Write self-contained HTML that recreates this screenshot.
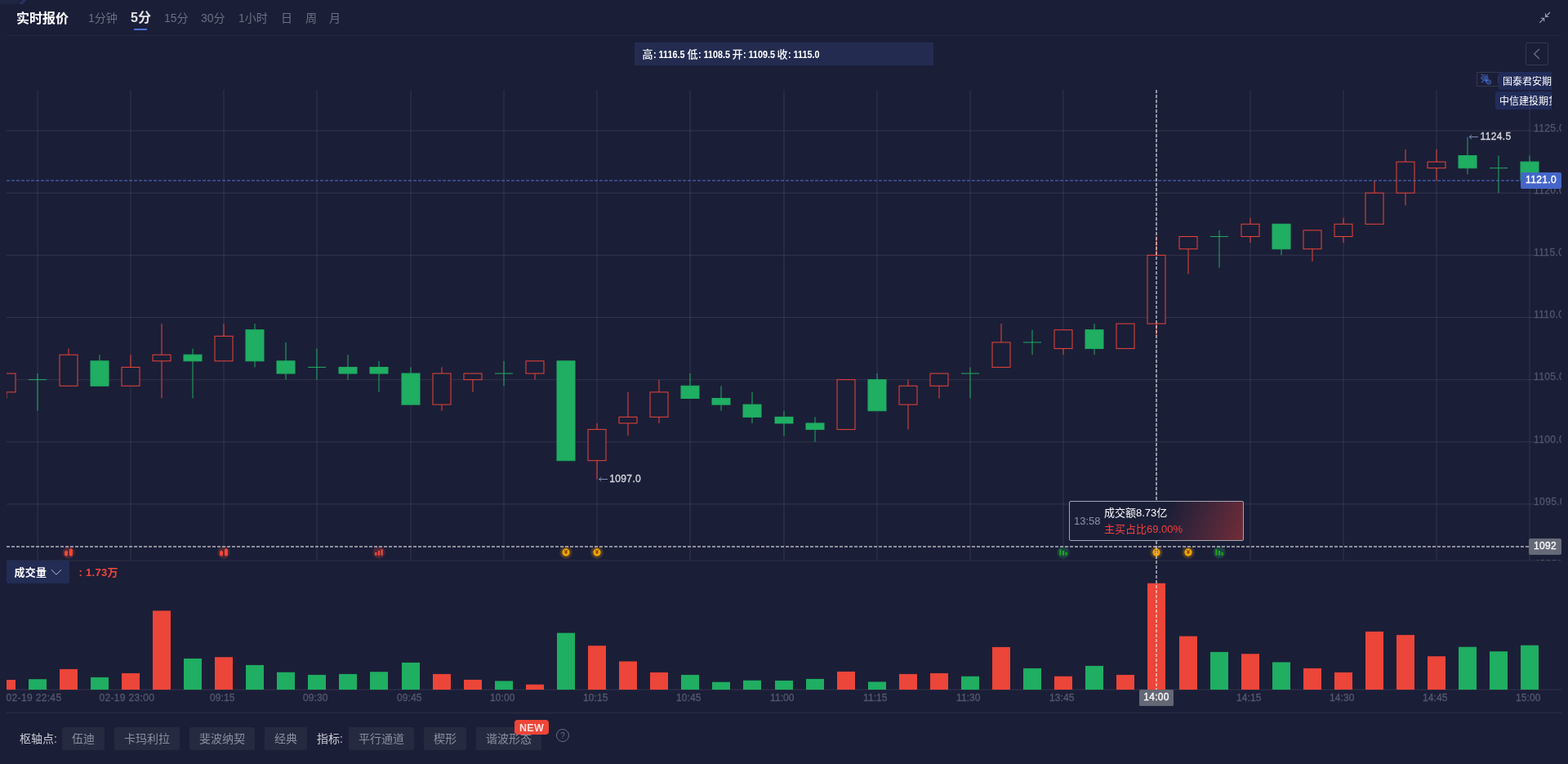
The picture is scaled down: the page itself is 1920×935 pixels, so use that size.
<!DOCTYPE html>
<html lang="zh-CN"><head><meta charset="utf-8"><title>实时报价</title>
<style>
html,body{margin:0;padding:0;}
body{width:1920px;height:935px;overflow:hidden;background:#1b1e37;font-family:"Liberation Sans","Noto Sans CJK SC",sans-serif;color:#fff;position:relative;}
.abs{position:absolute;white-space:nowrap;}
.chart{position:absolute;left:0;top:0;}
.title{left:20px;top:11px;height:24px;line-height:24px;font-size:16px;font-weight:bold;color:#fff;}
.tab{top:10px;height:24px;line-height:24px;font-size:14px;color:#6c7082;}
.tab.on{font-size:16px;font-weight:bold;color:#e4e4e8;}
.hline{left:8px;width:1904px;height:1px;background:#25293d;}
.ohlc{left:777px;top:52px;width:366px;height:28px;background:#232c50;}
.ohlc span{position:absolute;top:1px;line-height:28px;font-size:12px;color:#fff;white-space:nowrap;}
.ohlc .n{font-weight:bold;transform-origin:0 50%;transform:scaleX(0.9);}
.btnbox{left:1868px;top:52px;width:26px;height:26px;border:1px solid #35394d;border-radius:2px;}
.dm{left:1808px;top:88px;width:27px;height:16px;border:1px solid #35394d;border-right:none;overflow:hidden;}
.dmi{left:1813px;top:90px;font-size:10px;line-height:14px;color:#4a72d8;}
.dml{overflow:hidden;background:rgba(43,62,130,0.46);border-radius:2px 0 0 2px;height:22px;line-height:24px;font-size:12px;color:#fff;}
.ax{left:1878px;width:34px;overflow:hidden;height:14px;line-height:14px;font-size:12px;color:#53576d;-webkit-text-stroke:0.3px;letter-spacing:0.39px;}
.tl{height:14px;line-height:14px;font-size:12px;color:#53576d;top:847px;-webkit-text-stroke:0.35px;letter-spacing:0.05px;}
.ext{font-size:12px;line-height:14px;height:14px;color:#d6d7de;-webkit-text-stroke:0.35px;letter-spacing:0.35px;}
.plabel{left:1862px;top:211px;width:50px;height:20px;line-height:19px;-webkit-text-stroke:0.35px;letter-spacing:0.35px;background:#4466c9;border-radius:2px;font-size:12px;text-align:center;color:#fff;}
.clabel{left:1872px;top:659px;width:40px;height:20px;line-height:18px;-webkit-text-stroke:0.3px;letter-spacing:0.3px;background:#666a78;border-radius:2px;font-size:12px;text-align:center;color:#fff;}
.tlabel{left:1395px;top:844px;width:42px;height:20px;line-height:19px;-webkit-text-stroke:0.3px;letter-spacing:0.3px;background:#646875;border-radius:1.5px;font-size:12px;text-align:center;color:#fff;}
.tip{left:1309px;top:613px;width:212px;height:47px;border:1px solid #a3a6b4;border-radius:2px;background:linear-gradient(112deg,#1b1e37 0%,#1b1e37 53%,#46263a 77%,#722c38 100%);}
.tip .t{position:absolute;left:5px;top:14px;line-height:20px;font-size:13px;color:#8b93a8;}
.tip .l1{position:absolute;left:42px;top:4px;line-height:20px;font-size:13px;color:#fff;}
.tip .l2{position:absolute;left:42px;top:24px;line-height:20px;font-size:13px;color:#f2403c;}
.vol{left:8px;top:686px;width:77px;height:28px;background:#232c54;border-radius:2px;}
.vol span{position:absolute;left:9.5px;top:1px;letter-spacing:0.3px;line-height:28px;font-size:13px;font-weight:bold;color:#fff;}
.volv{left:96.5px;top:687px;letter-spacing:0.3px;line-height:28px;font-size:13px;font-weight:bold;color:#f0483a;}
.bl{top:890px;height:28px;line-height:28px;font-size:14px;color:#c9cad3;}
.bb{top:890px;height:28px;line-height:28px;font-size:14px;color:#8a8e9e;background:#262a40;border-radius:2px;text-align:center;}
.new{left:630px;top:881px;width:42px;height:18px;line-height:20px;border-radius:4px;background:#ee4538;color:#ffe1de;font-size:12.5px;font-weight:bold;text-align:center;letter-spacing:0.3px;}
.q{left:681px;top:892px;width:16px;height:16px;line-height:17px;text-align:center;font-size:10px;color:#6b6f82;}

</style></head><body>
<svg class="chart" width="1920" height="935" viewBox="0 0 1920 935">
<defs><clipPath id="cp"><rect x="8" y="100" width="1904" height="586"/></clipPath><clipPath id="cv"><rect x="8" y="686" width="1904" height="160"/></clipPath><radialGradient id="hr"><stop offset="0" stop-color="#e8453c" stop-opacity="0.3"/><stop offset="0.75" stop-color="#e8453c" stop-opacity="0.24"/><stop offset="1" stop-color="#e8453c" stop-opacity="0.1"/></radialGradient><radialGradient id="hg"><stop offset="0" stop-color="#1fae62" stop-opacity="0.3"/><stop offset="0.75" stop-color="#1fae62" stop-opacity="0.24"/><stop offset="1" stop-color="#1fae62" stop-opacity="0.1"/></radialGradient><radialGradient id="hy"><stop offset="0" stop-color="#f0a000" stop-opacity="0.3"/><stop offset="0.75" stop-color="#f0a000" stop-opacity="0.22"/><stop offset="1" stop-color="#f0a000" stop-opacity="0.1"/></radialGradient></defs>
<g stroke="#ffffff" stroke-opacity="0.1" stroke-width="1" fill="none">
<line x1="8" y1="617" x2="1880" y2="617"/>
<line x1="8" y1="540.83" x2="1880" y2="540.83"/>
<line x1="8" y1="464.67" x2="1880" y2="464.67"/>
<line x1="8" y1="388.5" x2="1880" y2="388.5"/>
<line x1="8" y1="312.33" x2="1880" y2="312.33"/>
<line x1="8" y1="236.17" x2="1880" y2="236.17"/>
<line x1="8" y1="160" x2="1880" y2="160"/>
<line x1="46" y1="110" x2="46" y2="686"/>
<line x1="160" y1="110" x2="160" y2="686"/>
<line x1="274" y1="110" x2="274" y2="686"/>
<line x1="388" y1="110" x2="388" y2="686"/>
<line x1="503" y1="110" x2="503" y2="686"/>
<line x1="617" y1="110" x2="617" y2="686"/>
<line x1="731" y1="110" x2="731" y2="686"/>
<line x1="845" y1="110" x2="845" y2="686"/>
<line x1="960" y1="110" x2="960" y2="686"/>
<line x1="1074" y1="110" x2="1074" y2="686"/>
<line x1="1188" y1="110" x2="1188" y2="686"/>
<line x1="1302" y1="110" x2="1302" y2="686"/>
<line x1="1416" y1="110" x2="1416" y2="686"/>
<line x1="1531" y1="110" x2="1531" y2="686"/>
<line x1="1645" y1="110" x2="1645" y2="686"/>
<line x1="1759" y1="110" x2="1759" y2="686"/>
<line x1="1873" y1="110" x2="1873" y2="686"/>
</g>
<rect x="8" y="685" width="1904" height="2" fill="#24283c"/>
<line x1="8" y1="844" x2="1912" y2="844" stroke="#ffffff" stroke-opacity="0.1" stroke-width="1"/>
<g clip-path="url(#cp)" stroke-width="1">
<path d="M8 479.9 V487.52" stroke="#ec4539" fill="none"/>
<rect x="-3" y="457.05" width="22" height="22.85" fill="#1b1e37" stroke="#ec4539"/>
<path d="M46 457.05 V502.75 M35 464.67 H57" stroke="#1fae62" fill="none"/>
<path d="M84 426.58 V434.2" stroke="#ec4539" fill="none"/>
<rect x="73" y="434.2" width="22" height="38.08" fill="#1b1e37" stroke="#ec4539"/>
<path d="M122 434.2 V441.82" stroke="#1fae62" fill="none"/>
<rect x="111" y="441.82" width="22" height="30.47" fill="#1fae62" stroke="#1fae62"/>
<path d="M160 434.2 V449.43" stroke="#ec4539" fill="none"/>
<rect x="149" y="449.43" width="22" height="22.85" fill="#1b1e37" stroke="#ec4539"/>
<path d="M198 396.12 V434.2 M198 441.82 V487.52" stroke="#ec4539" fill="none"/>
<rect x="187" y="434.2" width="22" height="7.62" fill="#1b1e37" stroke="#ec4539"/>
<path d="M236 426.58 V434.2 M236 441.82 V487.52" stroke="#1fae62" fill="none"/>
<rect x="225" y="434.2" width="22" height="7.62" fill="#1fae62" stroke="#1fae62"/>
<path d="M274 396.12 V411.35" stroke="#ec4539" fill="none"/>
<rect x="263" y="411.35" width="22" height="30.47" fill="#1b1e37" stroke="#ec4539"/>
<path d="M312 396.12 V403.73 M312 441.82 V449.43" stroke="#1fae62" fill="none"/>
<rect x="301" y="403.73" width="22" height="38.08" fill="#1fae62" stroke="#1fae62"/>
<path d="M350 418.97 V441.82 M350 457.05 V464.67" stroke="#1fae62" fill="none"/>
<rect x="339" y="441.82" width="22" height="15.23" fill="#1fae62" stroke="#1fae62"/>
<path d="M388 426.58 V464.67 M377 449.43 H399" stroke="#1fae62" fill="none"/>
<path d="M426 434.2 V449.43 M426 457.05 V464.67" stroke="#1fae62" fill="none"/>
<rect x="415" y="449.43" width="22" height="7.62" fill="#1fae62" stroke="#1fae62"/>
<path d="M464 441.82 V449.43 M464 457.05 V479.9" stroke="#1fae62" fill="none"/>
<rect x="453" y="449.43" width="22" height="7.62" fill="#1fae62" stroke="#1fae62"/>
<path d="M503 449.43 V457.05" stroke="#1fae62" fill="none"/>
<rect x="492" y="457.05" width="22" height="38.08" fill="#1fae62" stroke="#1fae62"/>
<path d="M541 449.43 V457.05 M541 495.13 V502.75" stroke="#ec4539" fill="none"/>
<rect x="530" y="457.05" width="22" height="38.08" fill="#1b1e37" stroke="#ec4539"/>
<path d="M579 464.67 V479.9" stroke="#ec4539" fill="none"/>
<rect x="568" y="457.05" width="22" height="7.62" fill="#1b1e37" stroke="#ec4539"/>
<path d="M617 441.82 V472.28 M606 457.05 H628" stroke="#1fae62" fill="none"/>
<path d="M655 457.05 V464.67" stroke="#ec4539" fill="none"/>
<rect x="644" y="441.82" width="22" height="15.23" fill="#1b1e37" stroke="#ec4539"/>
<rect x="682" y="441.82" width="22" height="121.87" fill="#1fae62" stroke="#1fae62"/>
<path d="M731 517.98 V525.6 M731 563.68 V586.53" stroke="#ec4539" fill="none"/>
<rect x="720" y="525.6" width="22" height="38.08" fill="#1b1e37" stroke="#ec4539"/>
<path d="M769 479.9 V510.37 M769 517.98 V533.22" stroke="#ec4539" fill="none"/>
<rect x="758" y="510.37" width="22" height="7.62" fill="#1b1e37" stroke="#ec4539"/>
<path d="M807 464.67 V479.9 M807 510.37 V517.98" stroke="#ec4539" fill="none"/>
<rect x="796" y="479.9" width="22" height="30.47" fill="#1b1e37" stroke="#ec4539"/>
<path d="M845 457.05 V472.28" stroke="#1fae62" fill="none"/>
<rect x="834" y="472.28" width="22" height="15.23" fill="#1fae62" stroke="#1fae62"/>
<path d="M883 472.28 V487.52 M883 495.13 V502.75" stroke="#1fae62" fill="none"/>
<rect x="872" y="487.52" width="22" height="7.62" fill="#1fae62" stroke="#1fae62"/>
<path d="M921 479.9 V495.13 M921 510.37 V517.98" stroke="#1fae62" fill="none"/>
<rect x="910" y="495.13" width="22" height="15.23" fill="#1fae62" stroke="#1fae62"/>
<path d="M960 502.75 V510.37 M960 517.98 V533.22" stroke="#1fae62" fill="none"/>
<rect x="949" y="510.37" width="22" height="7.62" fill="#1fae62" stroke="#1fae62"/>
<path d="M998 510.37 V517.98 M998 525.6 V540.83" stroke="#1fae62" fill="none"/>
<rect x="987" y="517.98" width="22" height="7.62" fill="#1fae62" stroke="#1fae62"/>
<rect x="1025" y="464.67" width="22" height="60.93" fill="#1b1e37" stroke="#ec4539"/>
<path d="M1074 457.05 V464.67" stroke="#1fae62" fill="none"/>
<rect x="1063" y="464.67" width="22" height="38.08" fill="#1fae62" stroke="#1fae62"/>
<path d="M1112 464.67 V472.28 M1112 495.13 V525.6" stroke="#ec4539" fill="none"/>
<rect x="1101" y="472.28" width="22" height="22.85" fill="#1b1e37" stroke="#ec4539"/>
<path d="M1150 472.28 V487.52" stroke="#ec4539" fill="none"/>
<rect x="1139" y="457.05" width="22" height="15.23" fill="#1b1e37" stroke="#ec4539"/>
<path d="M1188 449.43 V487.52 M1177 457.05 H1199" stroke="#1fae62" fill="none"/>
<path d="M1226 396.12 V418.97" stroke="#ec4539" fill="none"/>
<rect x="1215" y="418.97" width="22" height="30.47" fill="#1b1e37" stroke="#ec4539"/>
<path d="M1264 403.73 V434.2 M1253 418.97 H1275" stroke="#1fae62" fill="none"/>
<path d="M1302 426.58 V434.2" stroke="#ec4539" fill="none"/>
<rect x="1291" y="403.73" width="22" height="22.85" fill="#1b1e37" stroke="#ec4539"/>
<path d="M1340 396.12 V403.73 M1340 426.58 V434.2" stroke="#1fae62" fill="none"/>
<rect x="1329" y="403.73" width="22" height="22.85" fill="#1fae62" stroke="#1fae62"/>
<rect x="1367" y="396.12" width="22" height="30.47" fill="#1b1e37" stroke="#ec4539"/>
<path d="M1416 289.48 V312.33 M1416 396.12 V411.35" stroke="#ec4539" fill="none"/>
<rect x="1405" y="312.33" width="22" height="83.78" fill="#1b1e37" stroke="#ec4539"/>
<path d="M1455 304.72 V335.18" stroke="#ec4539" fill="none"/>
<rect x="1444" y="289.48" width="22" height="15.23" fill="#1b1e37" stroke="#ec4539"/>
<path d="M1493 281.87 V327.57 M1482 289.48 H1504" stroke="#1fae62" fill="none"/>
<path d="M1531 266.63 V274.25 M1531 289.48 V297.1" stroke="#ec4539" fill="none"/>
<rect x="1520" y="274.25" width="22" height="15.23" fill="#1b1e37" stroke="#ec4539"/>
<path d="M1569 304.72 V312.33" stroke="#1fae62" fill="none"/>
<rect x="1558" y="274.25" width="22" height="30.47" fill="#1fae62" stroke="#1fae62"/>
<path d="M1607 304.72 V319.95" stroke="#ec4539" fill="none"/>
<rect x="1596" y="281.87" width="22" height="22.85" fill="#1b1e37" stroke="#ec4539"/>
<path d="M1645 266.63 V274.25 M1645 289.48 V297.1" stroke="#ec4539" fill="none"/>
<rect x="1634" y="274.25" width="22" height="15.23" fill="#1b1e37" stroke="#ec4539"/>
<path d="M1683 220.93 V236.17" stroke="#ec4539" fill="none"/>
<rect x="1672" y="236.17" width="22" height="38.08" fill="#1b1e37" stroke="#ec4539"/>
<path d="M1721 182.85 V198.08 M1721 236.17 V251.4" stroke="#ec4539" fill="none"/>
<rect x="1710" y="198.08" width="22" height="38.08" fill="#1b1e37" stroke="#ec4539"/>
<path d="M1759 182.85 V198.08 M1759 205.7 V220.93" stroke="#ec4539" fill="none"/>
<rect x="1748" y="198.08" width="22" height="7.62" fill="#1b1e37" stroke="#ec4539"/>
<path d="M1797 167.62 V190.47 M1797 205.7 V213.32" stroke="#1fae62" fill="none"/>
<rect x="1786" y="190.47" width="22" height="15.23" fill="#1fae62" stroke="#1fae62"/>
<path d="M1835 190.47 V236.17 M1824 205.7 H1846" stroke="#1fae62" fill="none"/>
<path d="M1873 190.47 V198.08" stroke="#1fae62" fill="none"/>
<rect x="1862" y="198.08" width="22" height="22.85" fill="#1fae62" stroke="#1fae62"/>
</g>
<g clip-path="url(#cv)">
<rect x="-3" y="832" width="22" height="12" fill="#ec4539"/>
<rect x="35" y="831.2" width="22" height="12.8" fill="#1fae62"/>
<rect x="73" y="818.9" width="22" height="25.1" fill="#ec4539"/>
<rect x="111" y="828.9" width="22" height="15.1" fill="#1fae62"/>
<rect x="149" y="823.9" width="22" height="20.1" fill="#ec4539"/>
<rect x="187" y="747.4" width="22" height="96.6" fill="#ec4539"/>
<rect x="225" y="805.9" width="22" height="38.1" fill="#1fae62"/>
<rect x="263" y="804.2" width="22" height="39.8" fill="#ec4539"/>
<rect x="301" y="813.9" width="22" height="30.1" fill="#1fae62"/>
<rect x="339" y="822.7" width="22" height="21.3" fill="#1fae62"/>
<rect x="377" y="825.9" width="22" height="18.1" fill="#1fae62"/>
<rect x="415" y="824.9" width="22" height="19.1" fill="#1fae62"/>
<rect x="453" y="822.2" width="22" height="21.8" fill="#1fae62"/>
<rect x="492" y="810.9" width="22" height="33.1" fill="#1fae62"/>
<rect x="530" y="824.9" width="22" height="19.1" fill="#ec4539"/>
<rect x="568" y="831.9" width="22" height="12.1" fill="#ec4539"/>
<rect x="606" y="833.4" width="22" height="10.6" fill="#1fae62"/>
<rect x="644" y="837.7" width="22" height="6.3" fill="#ec4539"/>
<rect x="682" y="774.6" width="22" height="69.4" fill="#1fae62"/>
<rect x="720" y="790.2" width="22" height="53.8" fill="#ec4539"/>
<rect x="758" y="809.4" width="22" height="34.6" fill="#ec4539"/>
<rect x="796" y="822.9" width="22" height="21.1" fill="#ec4539"/>
<rect x="834" y="825.9" width="22" height="18.1" fill="#1fae62"/>
<rect x="872" y="834.7" width="22" height="9.3" fill="#1fae62"/>
<rect x="910" y="832.7" width="22" height="11.3" fill="#1fae62"/>
<rect x="949" y="832.9" width="22" height="11.1" fill="#1fae62"/>
<rect x="987" y="830.9" width="22" height="13.1" fill="#1fae62"/>
<rect x="1025" y="821.9" width="22" height="22.1" fill="#ec4539"/>
<rect x="1063" y="834.4" width="22" height="9.6" fill="#1fae62"/>
<rect x="1101" y="824.9" width="22" height="19.1" fill="#ec4539"/>
<rect x="1139" y="823.9" width="22" height="20.1" fill="#ec4539"/>
<rect x="1177" y="827.7" width="22" height="16.3" fill="#1fae62"/>
<rect x="1215" y="791.9" width="22" height="52.1" fill="#ec4539"/>
<rect x="1253" y="817.9" width="22" height="26.1" fill="#1fae62"/>
<rect x="1291" y="827.7" width="22" height="16.3" fill="#ec4539"/>
<rect x="1329" y="814.9" width="22" height="29.1" fill="#1fae62"/>
<rect x="1367" y="825.9" width="22" height="18.1" fill="#ec4539"/>
<rect x="1405" y="713.8" width="22" height="130.2" fill="#ec4539"/>
<rect x="1444" y="778.6" width="22" height="65.4" fill="#ec4539"/>
<rect x="1482" y="797.9" width="22" height="46.1" fill="#1fae62"/>
<rect x="1520" y="800.2" width="22" height="43.8" fill="#ec4539"/>
<rect x="1558" y="810.4" width="22" height="33.6" fill="#1fae62"/>
<rect x="1596" y="817.9" width="22" height="26.1" fill="#ec4539"/>
<rect x="1634" y="822.9" width="22" height="21.1" fill="#ec4539"/>
<rect x="1672" y="772.9" width="22" height="71.1" fill="#ec4539"/>
<rect x="1710" y="777.1" width="22" height="66.9" fill="#ec4539"/>
<rect x="1748" y="803.2" width="22" height="40.8" fill="#ec4539"/>
<rect x="1786" y="791.7" width="22" height="52.3" fill="#1fae62"/>
<rect x="1824" y="797.2" width="22" height="46.8" fill="#1fae62"/>
<rect x="1862" y="789.7" width="22" height="54.3" fill="#1fae62"/>
</g>
<line x1="8" y1="221" x2="1862" y2="221" stroke="#4e72d4" stroke-width="1" stroke-dasharray="4 2" opacity="1"/>
<rect x="76" y="668" width="16" height="16" fill="#1b1e37"/><circle cx="84" cy="676" r="8" fill="url(#hr)"/><path d="M79.1 675 l1.9 -1.4 l1.9 1.4 v4.4 l-1.9 1.4 l-1.9 -1.4z M84.9 672.8 l2 -1.8 l2 1.8 v6.4 l-2 1.9 l-2 -1.9z" fill="#f44a36"/>
<rect x="266" y="668" width="16" height="16" fill="#1b1e37"/><circle cx="274" cy="676" r="8" fill="url(#hr)"/><path d="M269.1 675 l1.9 -1.4 l1.9 1.4 v4.4 l-1.9 1.4 l-1.9 -1.4z M274.9 672.8 l2 -1.8 l2 1.8 v6.4 l-2 1.9 l-2 -1.9z" fill="#f44a36"/>
<rect x="456" y="668" width="16" height="16" fill="#1b1e37"/><circle cx="464" cy="676" r="8" fill="url(#hr)"/><rect x="459.1" y="676" width="2.4" height="3.7" fill="#f44a36"/><rect x="462.9" y="674" width="2.2" height="5.7" fill="#f44a36"/><rect x="466.5" y="672.2" width="2.2" height="7.5" fill="#f44a36"/>
<rect x="685" y="668" width="16" height="16" fill="#1b1e37"/><circle cx="693" cy="676" r="8" fill="url(#hy)"/><circle cx="693" cy="676" r="4.7" fill="#f2a200"/><text x="693" y="678.4" font-family="Liberation Sans,sans-serif" font-size="8" font-weight="bold" text-anchor="middle" fill="#6a4500">¥</text>
<rect x="723" y="668" width="16" height="16" fill="#1b1e37"/><circle cx="731" cy="676" r="8" fill="url(#hy)"/><circle cx="731" cy="676" r="4.7" fill="#f2a200"/><text x="731" y="678.4" font-family="Liberation Sans,sans-serif" font-size="8" font-weight="bold" text-anchor="middle" fill="#6a4500">¥</text>
<rect x="1294" y="668" width="16" height="16" fill="#1b1e37"/><circle cx="1302" cy="676" r="8" fill="url(#hg)"/><rect x="1297.4" y="672.3" width="2" height="7.3" fill="#22a51e"/><rect x="1300.9" y="674" width="2.2" height="5.6" fill="#22a51e"/><rect x="1304.5" y="676" width="2.2" height="3.6" fill="#22a51e"/>
<rect x="1408" y="668" width="16" height="16" fill="#1b1e37"/><circle cx="1416" cy="676" r="8" fill="url(#hy)"/><circle cx="1416" cy="676" r="4.7" fill="#f2a200"/><text x="1416" y="678.4" font-family="Liberation Sans,sans-serif" font-size="8" font-weight="bold" text-anchor="middle" fill="#6a4500">¥</text>
<rect x="1447" y="668" width="16" height="16" fill="#1b1e37"/><circle cx="1455" cy="676" r="8" fill="url(#hy)"/><circle cx="1455" cy="676" r="4.7" fill="#f2a200"/><text x="1455" y="678.4" font-family="Liberation Sans,sans-serif" font-size="8" font-weight="bold" text-anchor="middle" fill="#6a4500">¥</text>
<rect x="1485" y="668" width="16" height="16" fill="#1b1e37"/><circle cx="1493" cy="676" r="8" fill="url(#hg)"/><rect x="1488.4" y="672.3" width="2" height="7.3" fill="#22a51e"/><rect x="1491.9" y="674" width="2.2" height="5.6" fill="#22a51e"/><rect x="1495.5" y="676" width="2.2" height="3.6" fill="#22a51e"/>
<line x1="8" y1="669" x2="1872" y2="669" stroke="#ffffff" stroke-opacity="0.5" stroke-width="2" stroke-dasharray="4 2"/>
<line x1="1416" y1="110" x2="1416" y2="844" stroke="#ffffff" stroke-opacity="0.5" stroke-width="2" stroke-dasharray="4 2"/>
<path d="M1809.8 167.6 h-10.6 m2.8 -2.4 l-2.8 2.4 l2.8 2.4" stroke="#7f8db8" stroke-width="1" fill="none"/>
<path d="M744.2 586.5 h-10.6 m2.8 -2.4 l-2.8 2.4 l2.8 2.4" stroke="#7f8db8" stroke-width="1" fill="none"/>
</svg>
<div class="abs title">实时报价</div>
<div class="abs tab" style="left:108px">1分钟</div>
<div class="abs tab on" style="left:160px">5分</div>
<div class="abs tab" style="left:201px">15分</div>
<div class="abs tab" style="left:246px">30分</div>
<div class="abs tab" style="left:292px">1小时</div>
<div class="abs tab" style="left:344px">日</div>
<div class="abs tab" style="left:374px">周</div>
<div class="abs tab" style="left:403px">月</div>
<div class="abs" style="left:164px;top:35px;width:16px;height:2px;background:#4a72d8"></div>
<div class="abs hline" style="top:43px"></div>
<div class="abs ohlc"><span style="left:9.5px;font-size:13px;font-weight:500">高</span><span class="n" style="left:22.7px">: 1116.5</span><span style="left:64.5px;font-size:13px;font-weight:500">低</span><span class="n" style="left:77.7px">: 1108.5</span><span style="left:119.5px;font-size:13px;font-weight:500">开</span><span class="n" style="left:132.7px">: 1109.5</span><span style="left:174.5px;font-size:13px;font-weight:500">收</span><span class="n" style="left:187.7px">: 1115.0</span></div>
<div class="abs btnbox"></div>
<div class="abs dm"><div class="abs" style="left:25px;top:4px;width:1px;height:9px;background:#35394d"></div></div>
<div class="abs dmi">弹</div>
<div class="abs dml" style="left:1835px;top:88px;width:65px;"><span style="margin-left:5px">国泰君安期货</span></div>
<div class="abs dml" style="left:1831px;top:112px;width:69px;"><span style="margin-left:5px">中信建投期货</span></div>
<div class="abs ax" style="top:606.7px">1095.0</div>
<div class="abs ax" style="top:530.53px">1100.0</div>
<div class="abs ax" style="top:454.37px">1105.0</div>
<div class="abs ax" style="top:378.2px">1110.0</div>
<div class="abs ax" style="top:302.03px">1115.0</div>
<div class="abs ax" style="top:225.87px">1120.0</div>
<div class="abs ax" style="top:149.7px">1125.0</div>
<div class="abs tl" style="left:7.5px;letter-spacing:0.35px">02-19 22:45</div>
<div class="abs tl" style="left:121.4px;letter-spacing:0.35px">02-19 23:00</div>
<div class="abs tl" style="left:257.1px">09:15</div>
<div class="abs tl" style="left:371.1px">09:30</div>
<div class="abs tl" style="left:486.1px">09:45</div>
<div class="abs tl" style="left:600.1px">10:00</div>
<div class="abs tl" style="left:714.1px">10:15</div>
<div class="abs tl" style="left:828.1px">10:45</div>
<div class="abs tl" style="left:943.1px">11:00</div>
<div class="abs tl" style="left:1057.1px">11:15</div>
<div class="abs tl" style="left:1171.1px">11:30</div>
<div class="abs tl" style="left:1285.1px">13:45</div>
<div class="abs tl" style="left:1514.1px">14:15</div>
<div class="abs tl" style="left:1628.1px">14:30</div>
<div class="abs tl" style="left:1742.1px">14:45</div>
<div class="abs tl" style="left:1856.1px">15:00</div>
<div class="abs ext" style="left:1812.5px;top:160px">1124.5</div>
<div class="abs ext" style="left:746.3px;top:579px">1097.0</div>
<div class="abs plabel">1121.0</div>
<div class="abs clabel">1092</div>
<div class="abs tlabel">14:00</div>
<div class="abs tip"><span class="t">13:58</span><span class="l1">成交额8.73亿</span><span class="l2">主买占比69.00%</span></div>
<div class="abs vol"><span>成交量</span></div>
<div class="abs volv">: 1.73万</div>
<div class="abs hline" style="top:872px;background:#2b2f44"></div>
<div class="abs bl" style="left:24px">枢轴点:</div>
<div class="abs bb" style="left:76px;width:52px">伍迪</div>
<div class="abs bb" style="left:140px;width:80px">卡玛利拉</div>
<div class="abs bb" style="left:232px;width:80px">斐波纳契</div>
<div class="abs bb" style="left:324px;width:52px">经典</div>
<div class="abs bl" style="left:388px">指标:</div>
<div class="abs bb" style="left:427px;width:80px">平行通道</div>
<div class="abs bb" style="left:519px;width:52px">楔形</div>
<div class="abs bb" style="left:583px;width:80px">谐波形态</div>
<div class="abs new">NEW</div>
<div class="abs q">?</div>
<svg class="chart" width="1920" height="935" viewBox="0 0 1920 935">
<path d="M1898 15 L1892.5 20.5 M1892.5 16.6 V20.5 H1896.4 M1885.2 27.8 L1890.7 22.3 M1886.8 22.3 H1890.7 V26.2" stroke="#a0a3b3" stroke-width="1.1" fill="none"/>
<circle cx="1823" cy="100.5" r="2.6" fill="#1b1e37" stroke="#4a72d8" stroke-width="1"/><path d="M1821.8 100.5 h2.4" stroke="#4a72d8" stroke-width="0.9"/>
<path d="M1885 60 L1878.6 66 L1885 72" stroke="#6f7385" stroke-width="1.2" fill="none"/>
<circle cx="689" cy="900" r="7.5" stroke="#6b6f82" stroke-width="1" fill="none"/>
<path d="M62.8 697.2 L69 703.2 L75.2 697.2" stroke="#b9bccb" stroke-width="1" fill="none"/>
<path d="M0 0 H25 L20.5 5 H0z" fill="#1e2541"/><path d="M27.5 0 H32.5 L28 5 H22.5z" fill="#26335e"/>
<path d="M1882 685.5 h2 m3 0 h4 m3 0 h4 m3 0 h4 m4 0 h1" stroke="#4a4e60" stroke-width="1" fill="none"/>
</svg>
</body></html>
